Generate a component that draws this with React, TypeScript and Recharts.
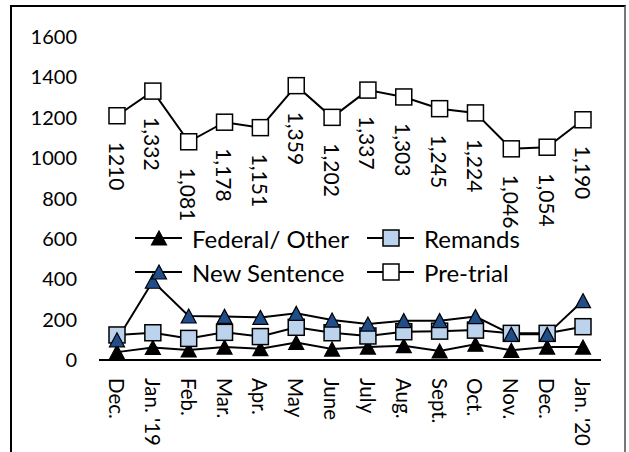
import React from 'react';
import { LineChart, Line, XAxis, YAxis, Legend, LabelList } from 'recharts';

const months = ['Dec.', "Jan. '19", 'Feb.', 'Mar.', 'Apr.', 'May', 'June', 'July', 'Aug.', 'Sept.', 'Oct.', 'Nov.', 'Dec.', "Jan. '20"];
const federalOther = [39, 62, 50, 64, 56, 87, 54, 64, 71, 45, 78, 48, 64, 64];
const remands = [124, 135, 107, 137, 116, 162, 135, 119, 140, 143, 148, 132, 132, 165];
const newSentence = [100, 390, 218, 216, 211, 231, 198, 178, 195, 195, 215, 127, 127, 294];
const preTrial = [1210, 1332, 1081, 1178, 1151, 1359, 1202, 1337, 1303, 1245, 1224, 1046, 1054, 1190];
const preTrialLabels = ['1210', '1,332', '1,081', '1,178', '1,151', '1,359', '1,202', '1,337', '1,303', '1,245', '1,224', '1,046', '1,054', '1,190'];
const yTicks = [0, 200, 400, 600, 800, 1000, 1200, 1400, 1600];
const seriesNames = ['Federal/ Other', 'Remands', 'New Sentence', 'Pre-trial'];

const data = months.map((m, i) => ({
  month: m,
  federal: federalOther[i],
  remands: remands[i],
  newSentence: newSentence[i],
  preTrial: preTrial[i],
  ptLabel: preTrialLabels[i],
}));

const FONT = 'Lato, "Open Sans", sans-serif';
const DARK_BLUE = '#1F4E8A';
const LIGHT_BLUE = '#BCD3EE';

const triPoints = (cx: number, cy: number) => {
  const w = 15, h = 14;
  return `${cx},${cy - h / 2} ${cx + w / 2},${cy + h / 2} ${cx - w / 2},${cy + h / 2}`;
};

const triangleDot = (fill: string) => (props: any) => {
  const { cx, cy, index } = props;
  if (cx == null || cy == null) return <g key={`e-${index}`} />;
  return <polygon key={`t-${fill}-${index}`} points={triPoints(cx, cy)} fill={fill} stroke="#000" strokeWidth={1.2} />;
};

const squareDot = (fill: string) => (props: any) => {
  const { cx, cy, index } = props;
  if (cx == null || cy == null) return <g key={`e-${index}`} />;
  return <rect key={`s-${fill}-${index}`} x={cx - 8} y={cy - 8} width={16} height={16} fill={fill} stroke="#000" strokeWidth={1.5} />;
};

const XTick = (props: any) => {
  const { x, y, payload } = props;
  const ty = y + 18;
  return (
    <text x={x} y={ty} transform={`rotate(90, ${x}, ${ty})`} textAnchor="start" dominantBaseline="central" fontFamily={FONT} fontSize={20.5} fill="#000">
      {payload.value}
    </text>
  );
};

const PretrialLabel = (props: any) => {
  const { x, y, value } = props;
  const ty = y + 26;
  return (
    <text x={x} y={ty} transform={`rotate(90, ${x}, ${ty})`} textAnchor="start" dominantBaseline="central" fontFamily={FONT} fontSize={21} fill="#000">
      {value}
    </text>
  );
};

const legendMarkers = [
  (cx: number, cy: number) => <polygon points={triPoints(cx, cy)} fill="#000" stroke="#000" strokeWidth={1.2} />,
  (cx: number, cy: number) => <rect x={cx - 8} y={cy - 8} width={16} height={16} fill={LIGHT_BLUE} stroke="#000" strokeWidth={1.5} />,
  (cx: number, cy: number) => <polygon points={triPoints(cx, cy)} fill={DARK_BLUE} stroke="#000" strokeWidth={1.2} />,
  (cx: number, cy: number) => <rect x={cx - 8} y={cy - 8} width={16} height={16} fill="#fff" stroke="#000" strokeWidth={1.5} />,
];

const legendCols = [135, 367];
const legendRows = [238, 272];

const LegendContent = () => (
  <svg width={629} height={452} style={{ position: 'absolute', left: 0, top: 0, overflow: 'visible' }}>
    {seriesNames.map((name, i) => {
      const x0 = legendCols[i % 2];
      const y0 = legendRows[Math.floor(i / 2)];
      return (
        <g key={name}>
          <line x1={x0} x2={x0 + 47} y1={y0} y2={y0} stroke="#000" strokeWidth={2} />
          {legendMarkers[i](x0 + 24, y0)}
          <text x={x0 + 57} y={y0} dominantBaseline="central" fontFamily={FONT} fontSize={24} fill="#000">
            {name}
          </text>
        </g>
      );
    })}
  </svg>
);

export default function App() {
  return (
    <div style={{ position: 'absolute', left: 0, top: 0, width: 629, height: 452, background: '#fff', overflow: 'hidden' }}>
      <div style={{ position: 'absolute', left: 10, top: 5, width: 616, height: 470, borderTop: '2px solid #000', borderLeft: '2px solid #000', borderRight: '2px solid #777', boxSizing: 'border-box' }} />
      <div style={{ position: 'absolute', left: 0, top: 0 }}>
        <LineChart width={629} height={452} data={data} margin={{ top: 37, right: 28, bottom: 0, left: 20 }}>
          <XAxis
            dataKey="month"
            height={92}
            padding={{ left: 18, right: 18 }}
            axisLine={{ stroke: '#000', strokeWidth: 2 }}
            tickLine={false}
            tickSize={0}
            tickMargin={0}
            interval={0}
            tick={<XTick />}
          />
          <YAxis
            width={79}
            domain={[0, 1600]}
            ticks={yTicks}
            axisLine={false}
            tickLine={false}
            tickSize={0}
            tickMargin={22}
            tick={{ fontFamily: FONT, fontSize: 20, fill: '#000' }}
          />
          <Line dataKey="federal" name={seriesNames[0]} stroke="#000" strokeWidth={2} dot={triangleDot('#000')} isAnimationActive={false} />
          <Line dataKey="remands" name={seriesNames[1]} stroke="#000" strokeWidth={2} dot={squareDot(LIGHT_BLUE)} isAnimationActive={false} />
          <Line dataKey="newSentence" name={seriesNames[2]} stroke="#000" strokeWidth={2} dot={triangleDot(DARK_BLUE)} isAnimationActive={false} />
          <Line dataKey="preTrial" name={seriesNames[3]} stroke="#000" strokeWidth={2} dot={squareDot('#fff')} isAnimationActive={false}>
            <LabelList dataKey="ptLabel" content={<PretrialLabel />} />
          </Line>
          <Legend
            layout="horizontal"
            verticalAlign="middle"
            align="center"
            wrapperStyle={{ top: 0, left: 0, width: 629, height: 452, pointerEvents: 'none' }}
            content={<LegendContent />}
          />
        </LineChart>
      </div>
    </div>
  );
}
